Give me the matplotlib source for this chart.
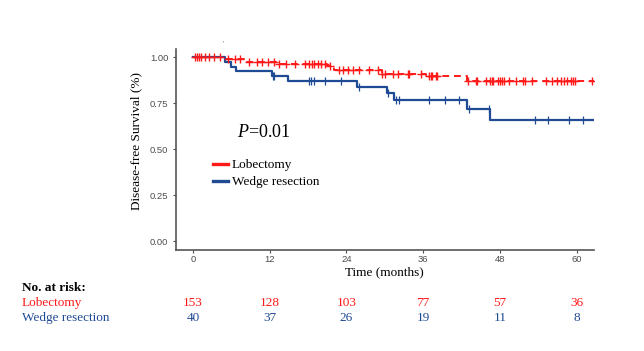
import numpy as np
import matplotlib
matplotlib.use("Agg")
import matplotlib.pyplot as plt

plt.rcParams["mathtext.fontset"] = "custom"
plt.rcParams["mathtext.it"] = "Liberation Serif:italic"
plt.rcParams["mathtext.rm"] = "Liberation Serif"

# Kaplan-Meier steps (months, survival)
lob_times = [0, 4.8, 8.0, 13.0, 21.0, 22.0, 29.5, 36.5, 42.8]
lob_surv = [1.0, 0.994, 0.976, 0.962, 0.953, 0.930, 0.912, 0.900, 0.872]
lob_censor = [0.3, 0.6, 0.9, 1.3, 1.8, 2.5, 3.3, 4.2, 5.5, 6.5, 7.3, 8.7, 10.0,
              10.8, 11.8, 12.6, 13.4, 14.5, 16.0, 17.5, 18.2, 18.6, 19.0, 19.5,
              20.0, 20.6, 21.5, 22.8, 23.5, 24.2, 25.0, 26.0, 27.5, 28.9, 29.5,
              30.0, 31.3, 32.0, 33.6, 33.8, 35.7, 36.9, 37.2, 37.4, 38.0, 38.2,
              43.0, 44.2, 44.5, 45.8, 46.5, 46.8, 47.0, 47.7, 48.0, 48.3, 48.7,
              49.4, 50.5, 51.7, 51.9, 53.1, 55.3, 56.1, 57.0, 57.6, 58.0, 58.5,
              59.1, 59.5, 59.8, 62.5]

wed_times = [0, 5.0, 5.9, 6.7, 12.3, 14.8, 25.7, 30.3, 31.5, 42.9, 46.5]
wed_surv = [1.0, 0.975, 0.950, 0.925, 0.900, 0.872, 0.840, 0.807, 0.767, 0.717, 0.657]
wed_censor = [12.5, 12.7, 18.1, 18.5, 18.95, 20.6, 23.1, 25.9, 30.5, 31.8, 32.3,
              36.9, 39.4, 41.6, 43.1, 46.25, 53.5, 55.6, 58.8, 61.0]
t_end = 62.7

risk_times = [0, 12, 24, 36, 48, 60]
lob_risk = [153, 128, 103, 77, 57, 36]
wed_risk = [40, 37, 26, 19, 11, 8]

red = "#ff1a1a"
blue = "#1f4a94"
serif = ["Liberation Serif", "DejaVu Serif"]
sans = ["Liberation Sans", "DejaVu Sans"]
fs = 9.5


def surv_at(times, surv, t):
    i = np.searchsorted(times, t, side="right") - 1
    return np.array(surv)[i]


fig = plt.figure(figsize=(6.44, 3.51), dpi=100)
ax = fig.add_axes([0.273, 0.288, 0.649, 0.572])

ax.step(lob_times + [t_end], lob_surv + [lob_surv[-1]], where="post",
        color=red, lw=1.4, ls=(0, (3.5, 2.5)), label="Lobectomy")
ax.step(wed_times + [t_end], wed_surv + [wed_surv[-1]], where="post",
        color=blue, lw=1.6, label="Wedge resection")
ax.plot(lob_censor, surv_at(lob_times, lob_surv, lob_censor), ls="none",
        marker="+", ms=6, mew=1.0, color=red)
ax.plot(wed_censor, surv_at(wed_times, wed_surv, wed_censor), ls="none",
        marker="|", ms=6, mew=0.9, color=blue)

ax.set_xlim(-2.7, 62.7)
ax.set_ylim(-0.048, 1.045)
ax.set_xticks(risk_times)
ax.set_yticks([0, 0.25, 0.5, 0.75, 1.0])
ax.set_yticklabels(["0.00", "0.25", "0.50", "0.75", "1.00"])
for s in ["top", "right"]:
    ax.spines[s].set_visible(False)
for s in ["left", "bottom"]:
    ax.spines[s].set_color("#555555")
    ax.spines[s].set_linewidth(1.2)
ax.tick_params(colors="#4d4d4d", labelsize=6.8, length=2.5, width=0.8, pad=3)
ax.tick_params(axis="x", pad=1.5)
for lab in ax.get_xticklabels() + ax.get_yticklabels():
    lab.set_family(sans)

ax.set_xlabel("Time (months)", family=serif, fontsize=fs, labelpad=1)
ax.set_ylabel("Disease-free Survival (%)", family=serif, fontsize=fs)
ax.yaxis.set_label_coords(-0.081, 0.54)

ax.text(6.9, 0.59, "$P$=0.01", family=serif, fontsize=13,
        va="center", ha="left")
leg = ax.legend(loc="upper left", bbox_to_anchor=(0.0885, 0.452), frameon=False,
                prop={"family": serif, "size": fs}, handlelength=1.15,
                handletextpad=0.3, labelspacing=0.36, borderpad=0,
                borderaxespad=0)
for h in leg.get_lines():
    h.set_linewidth(2.4)
    h.set_linestyle("-")

# small stray mark above the plot
fig.text(223 / 644, 1 - 43 / 351, "'", fontsize=4, color="#555555",
         ha="center", va="center")

# number at risk table
fig.text(22 / 644, 1 - 288 / 351, "No. at risk:", family=serif, fontsize=fs,
         fontweight="bold", va="center")
fig.text(22 / 644, 1 - 303 / 351, "Lobectomy", family=serif, fontsize=fs,
         color=red, va="center")
fig.text(22 / 644, 1 - 318 / 351, "Wedge resection", family=serif, fontsize=fs,
         color=blue, va="center")
for t, a, b in zip(risk_times, lob_risk, wed_risk):
    xf = ax.transData.transform((t, 0))[0] / fig.bbox.width
    fig.text(xf, 1 - 303 / 351, str(a), family=serif, fontsize=fs,
             color=red, ha="center", va="center")
    fig.text(xf, 1 - 318 / 351, str(b), family=serif, fontsize=fs,
             color=blue, ha="center", va="center")

fig.savefig("out.png", dpi=100)
